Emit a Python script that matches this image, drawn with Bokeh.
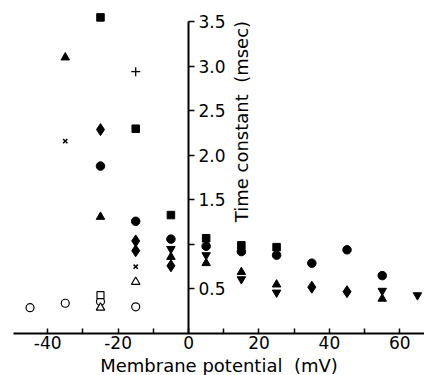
from math import pi
from bokeh.plotting import figure
from bokeh.models import LinearAxis, FixedTicker, Range1d, Label
from bokeh.embed import file_html
from bokeh.resources import INLINE

# ---- data (membrane potential in mV, time constant in msec) ----
sq_fill_x = [-25, -15, -5, 5, 15, 25]
sq_fill_y = [3.55, 2.30, 1.33, 1.07, 0.99, 0.97]

circ_fill_x = [-25, -15, -5, 5, 15, 25, 35, 45, 55]
circ_fill_y = [1.88, 1.26, 1.06, 0.98, 0.92, 0.88, 0.79, 0.94, 0.65]

tri_fill_x = [-35, -25, -5, 5, 15, 25, 55]
tri_fill_y = [3.10, 1.31, 0.86, 0.79, 0.69, 0.55, 0.39]

inv_tri_x = [-5, 5, 15, 25, 55, 65]
inv_tri_y = [0.95, 0.88, 0.61, 0.46, 0.48, 0.43]

diamond_x = [-25, -15, -15, -5, 35, 45]
diamond_y = [2.29, 1.04, 0.93, 0.76, 0.52, 0.47]

xmark_x = [-35, -15]
xmark_y = [2.16, 0.75]

plus_x = [-15]
plus_y = [2.94]

circ_open_x = [-45, -35, -25, -15]
circ_open_y = [0.29, 0.34, 0.36, 0.30]

sq_open_x = [-25]
sq_open_y = [0.43]

tri_open_x = [-25, -15]
tri_open_y = [0.29, 0.58]

x_ticks = [-40, -30, -20, -10, 0, 10, 20, 30, 40, 50, 60]
x_tick_labels = ["-40", "", "-20", "", "0", "", "20", "", "40", "", "60"]
y_ticks = [0.5, 1.0, 1.5, 2.0, 2.5, 3.0, 3.5]
y_tick_labels = ["0.5", "", "1.5", "2.0", "2.5", "3.0", "3.5"]

FONT = "DejaVu Sans"

p = figure(frame_width=411, frame_height=325, output_backend="svg",
           toolbar_location=None,
           x_range=Range1d(-49.7, 67), y_range=Range1d(0, 3.65),
           y_axis_location=None, x_axis_location="below",
           min_border_left=13, min_border_right=0, min_border_top=8,
           min_border_bottom=0)
p.grid.visible = False
p.outline_line_color = None
p.background_fill_color = "white"

# x axis
xa = p.xaxis[0]
xa.ticker = FixedTicker(ticks=x_ticks)
xa.major_label_overrides = {t: l for t, l in zip(x_ticks, x_tick_labels)}
xa.major_tick_in = 5
xa.major_tick_out = 0
xa.minor_tick_line_color = None
xa.axis_line_width = 2
xa.major_tick_line_width = 1.5
xa.major_label_text_font = FONT
xa.major_label_text_font_size = "17px"
xa.major_label_text_color = "black"
xa.major_label_standoff = 2
xa.axis_label = "Membrane potential\u00a0\u00a0(mV)"
xa.axis_label_text_font = FONT
xa.axis_label_text_font_size = "18px"
xa.axis_label_text_font_style = "normal"
xa.axis_label_text_color = "black"
xa.axis_label_standoff = 3

# y axis drawn at x = 0 with labels to its right
ya = LinearAxis(fixed_location=0, bounds=(0, 3.5),
                ticker=FixedTicker(ticks=y_ticks))
ya.major_label_overrides = {t: l for t, l in zip(y_ticks, y_tick_labels)}
ya.major_tick_in = 0
ya.major_tick_out = 6
ya.minor_tick_line_color = None
ya.axis_line_width = 2
ya.major_tick_line_width = 1.5
ya.major_label_text_font = FONT
ya.major_label_text_font_size = "17px"
ya.major_label_text_color = "black"
ya.major_label_standoff = 4
p.add_layout(ya, "right")

p.add_layout(Label(x=15, y=2.38, text="Time constant\u00a0\u00a0(msec)", angle=pi / 2,
                   text_align="center", text_baseline="middle",
                   text_font=FONT, text_font_size="18px", text_color="black"))

# markers
p.scatter(sq_fill_x, sq_fill_y, marker="square", size=7.5, color="black")
p.scatter(circ_fill_x, circ_fill_y, marker="circle", size=8.5, color="black")
p.scatter(tri_fill_x, tri_fill_y, marker="triangle", size=8.5, color="black")
p.scatter(inv_tri_x, inv_tri_y, marker="inverted_triangle", size=8.5, color="black")
p.scatter(diamond_x, diamond_y, marker="diamond", size=12, color="black")
p.scatter(xmark_x, xmark_y, marker="x", size=6, line_color="black", line_width=1.5)
p.scatter(plus_x, plus_y, marker="cross", size=9, line_color="black", line_width=1.3)
p.scatter(circ_open_x, circ_open_y, marker="circle", size=8, fill_color="white",
          line_color="black", line_width=1.2)
p.scatter(sq_open_x, sq_open_y, marker="square", size=7, fill_color="white",
          line_color="black", line_width=1.2)
p.scatter(tri_open_x, tri_open_y, marker="triangle", size=8.5, fill_color="white",
          line_color="black", line_width=1.2)

open("out.html", "w").write(file_html(p, INLINE))
